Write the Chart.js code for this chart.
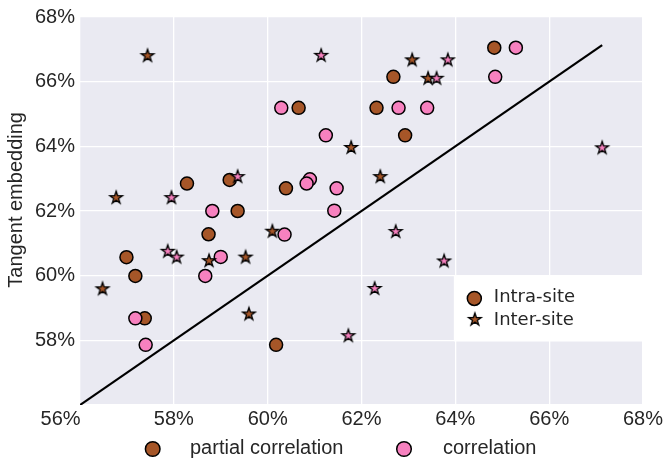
<!DOCTYPE html>
<html>
<head>
<meta charset="utf-8">
<script src="https://cdn.jsdelivr.net/npm/chart.js@4/dist/chart.umd.min.js"></script>
<style>
    html, body { margin: 0; padding: 0; background: #fff; }
    #wrap { width: 667px; height: 468px; }
</style>
</head>
<body>
<div id="wrap"><canvas id="chart" width="667" height="468"></canvas></div>
<script>
// values, [x, y] in percent
var intraPartial = [
    [64.83, 67.05], [62.68, 66.15], [60.66, 65.19], [62.32, 65.19], [62.93, 64.34],
    [58.28, 62.85], [59.19, 62.96], [59.36, 62.00], [58.74, 61.28], [60.39, 62.70],
    [56.99, 60.57], [57.18, 59.99], [57.38, 58.68], [60.18, 57.86]
];
var intraCorr = [
    [65.29, 67.05], [64.85, 66.15], [60.29, 65.19], [62.79, 65.19], [63.40, 65.19],
    [61.24, 64.34], [58.82, 62.00], [60.90, 62.98], [60.83, 62.85], [61.47, 62.70],
    [61.42, 62.01], [60.36, 61.27], [59.00, 60.58], [58.67, 59.99], [57.18, 58.68],
    [57.40, 57.86]
];
var interPartial = [
    [57.44, 66.82], [63.08, 66.69], [63.42, 66.12], [61.78, 63.98], [62.40, 63.08],
    [56.77, 62.43], [60.10, 61.39], [58.75, 60.48], [59.53, 60.59], [56.48, 59.61],
    [59.60, 58.83]
];
var interCorr = [
    [61.14, 66.83], [63.84, 66.69], [63.60, 66.12], [67.13, 63.97], [57.95, 62.43],
    [59.36, 63.08], [62.73, 61.38], [57.87, 60.77], [58.06, 60.59], [63.76, 60.47],
    [62.28, 59.62], [61.72, 58.16]
];
var identityLine = [56, 67.13];

var xTickLabels = ['56%       ', '58%', '60%', '62%', '64%', '66%', '68%'];
var yTickLabels = ['', '58%', '60%', '62%', '64%', '66%', '68%'];
var seriesNames = ['partial correlation', 'correlation'];
var siteNames = ['Intra-site', 'Inter-site'];

var BROWN = '#a65628';
var PINK = '#f781bf';

function toPoints(list) {
    return list.map(function (p) { return { x: p[0], y: p[1] }; });
}

function makeStar(fill) {
    var c = document.createElement('canvas');
    c.width = 22;
    c.height = 22;
    var g = c.getContext('2d');
    var R = 6.6, r = R * 0.382;
    g.beginPath();
    for (var i = 0; i < 10; i++) {
        var rad = i % 2 ? r : R;
        var a = -Math.PI / 2 + i * Math.PI / 5;
        var px = 11 + rad * Math.cos(a), py = 11.6 + rad * Math.sin(a);
        if (i === 0) g.moveTo(px, py); else g.lineTo(px, py);
    }
    g.closePath();
    g.fillStyle = fill;
    g.fill();
    g.lineWidth = 1.3;
    g.lineJoin = 'miter';
    g.strokeStyle = '#000';
    g.stroke();
    return c;
}

var brownStar = makeStar(BROWN);
var pinkStar = makeStar(PINK);

function drawCircle(ctx, x, y, r, fill) {
    ctx.beginPath();
    ctx.arc(x, y, r, 0, Math.PI * 2);
    ctx.fillStyle = fill;
    ctx.fill();
    ctx.lineWidth = 1.5;
    ctx.strokeStyle = '#000';
    ctx.stroke();
}

var plotBg = {
    id: 'plotBg',
    beforeDraw: function (chart) {
        var a = chart.chartArea, ctx = chart.ctx;
        ctx.save();
        ctx.fillStyle = '#eaeaf2';
        ctx.fillRect(a.left, a.top, a.right - a.left, a.bottom - a.top);
        ctx.restore();
    }
};

// legend box inside the plot (Intra-site / Inter-site)
var siteLegend = {
    id: 'siteLegend',
    beforeDatasetsDraw: function (chart) {
        var a = chart.chartArea, ctx = chart.ctx;
        var w = a.right - a.left, h = a.bottom - a.top;
        var left = a.left + 0.664 * w, top = a.top + 0.666 * h;
        var bottom = a.top + 0.836 * h;
        ctx.save();
        ctx.fillStyle = '#fff';
        ctx.fillRect(left, top, a.right - left, bottom - top);
        drawCircle(ctx, left + 20.5, top + 23, 7, BROWN);
        ctx.drawImage(brownStar, left + 21 - 11, top + 43.5 - 11);
        ctx.fillStyle = '#262626';
        ctx.font = '18px "DejaVu Sans"';
        ctx.textBaseline = 'middle';
        ctx.textAlign = 'left';
        ctx.fillText(siteNames[0], left + 40, top + 22);
        ctx.fillText(siteNames[1], left + 40, top + 45);
        ctx.restore();
    }
};

// legend under the plot (partial correlation / correlation)
var seriesLegend = {
    id: 'seriesLegend',
    afterDraw: function (chart) {
        var ctx = chart.ctx;
        ctx.save();
        drawCircle(ctx, 152.7, 449, 7.3, BROWN);
        drawCircle(ctx, 404, 449, 7.3, PINK);
        ctx.fillStyle = '#262626';
        ctx.font = '20px "Liberation Sans"';
        ctx.textBaseline = 'middle';
        ctx.textAlign = 'left';
        ctx.fillText(seriesNames[0], 190, 448);
        ctx.fillText(seriesNames[1], 443, 448);
        ctx.restore();
    }
};

var tickFont = { family: 'Liberation Sans', size: 20 };

new Chart(document.getElementById('chart').getContext('2d'), {
    type: 'scatter',
    data: {
        datasets: [
            {
                label: 'interCorr', data: toPoints(interCorr), order: 0,
                pointStyle: pinkStar, pointRadius: 7
            },
            {
                label: 'interPartial', data: toPoints(interPartial), order: 1,
                pointStyle: brownStar, pointRadius: 7
            },
            {
                label: 'intraCorr', data: toPoints(intraCorr), order: 2,
                pointStyle: 'circle', pointRadius: 6.5,
                backgroundColor: PINK, borderColor: '#000', borderWidth: 1.5
            },
            {
                label: 'intraPartial', data: toPoints(intraPartial), order: 3,
                pointStyle: 'circle', pointRadius: 6.5,
                backgroundColor: BROWN, borderColor: '#000', borderWidth: 1.5
            },
            {
                type: 'line', label: 'identity', order: 4,
                data: [{ x: identityLine[0], y: identityLine[0] }, { x: identityLine[1], y: identityLine[1] }],
                borderColor: '#000', borderWidth: 2.2, pointRadius: 0, fill: false
            }
        ]
    },
    options: {
        responsive: false,
        animation: false,
        layout: { padding: { top: 15, right: 24, left: 0, bottom: 0 } },
        plugins: {
            legend: { display: false },
            tooltip: { enabled: false }
        },
        scales: {
            x: {
                type: 'linear', min: 56, max: 68,
                border: { display: false },
                grid: { color: '#ffffff', lineWidth: 1.3, drawTicks: false },
                ticks: {
                    stepSize: 2, maxRotation: 0, autoSkip: false, padding: 2,
                    color: '#262626', font: tickFont,
                    callback: function (v, i) { return xTickLabels[i]; }
                },
                afterFit: function (s) { s.height = 63; }
            },
            y: {
                type: 'linear', min: 56, max: 68,
                border: { display: false },
                grid: { color: '#ffffff', lineWidth: 1.3, drawTicks: false },
                ticks: {
                    stepSize: 2, padding: 5, autoSkip: false,
                    color: '#262626', font: tickFont,
                    callback: function (v, i) { return yTickLabels[i]; }
                },
                title: {
                    display: true, text: '    Tangent embedding', color: '#262626',
                    font: { family: 'Liberation Sans', size: 20 },
                    padding: { top: 4, bottom: 0 }
                },
                afterFit: function (s) { s.width = 80; }
            }
        }
    },
    plugins: [plotBg, siteLegend, seriesLegend]
});
</script>
</body>
</html>
